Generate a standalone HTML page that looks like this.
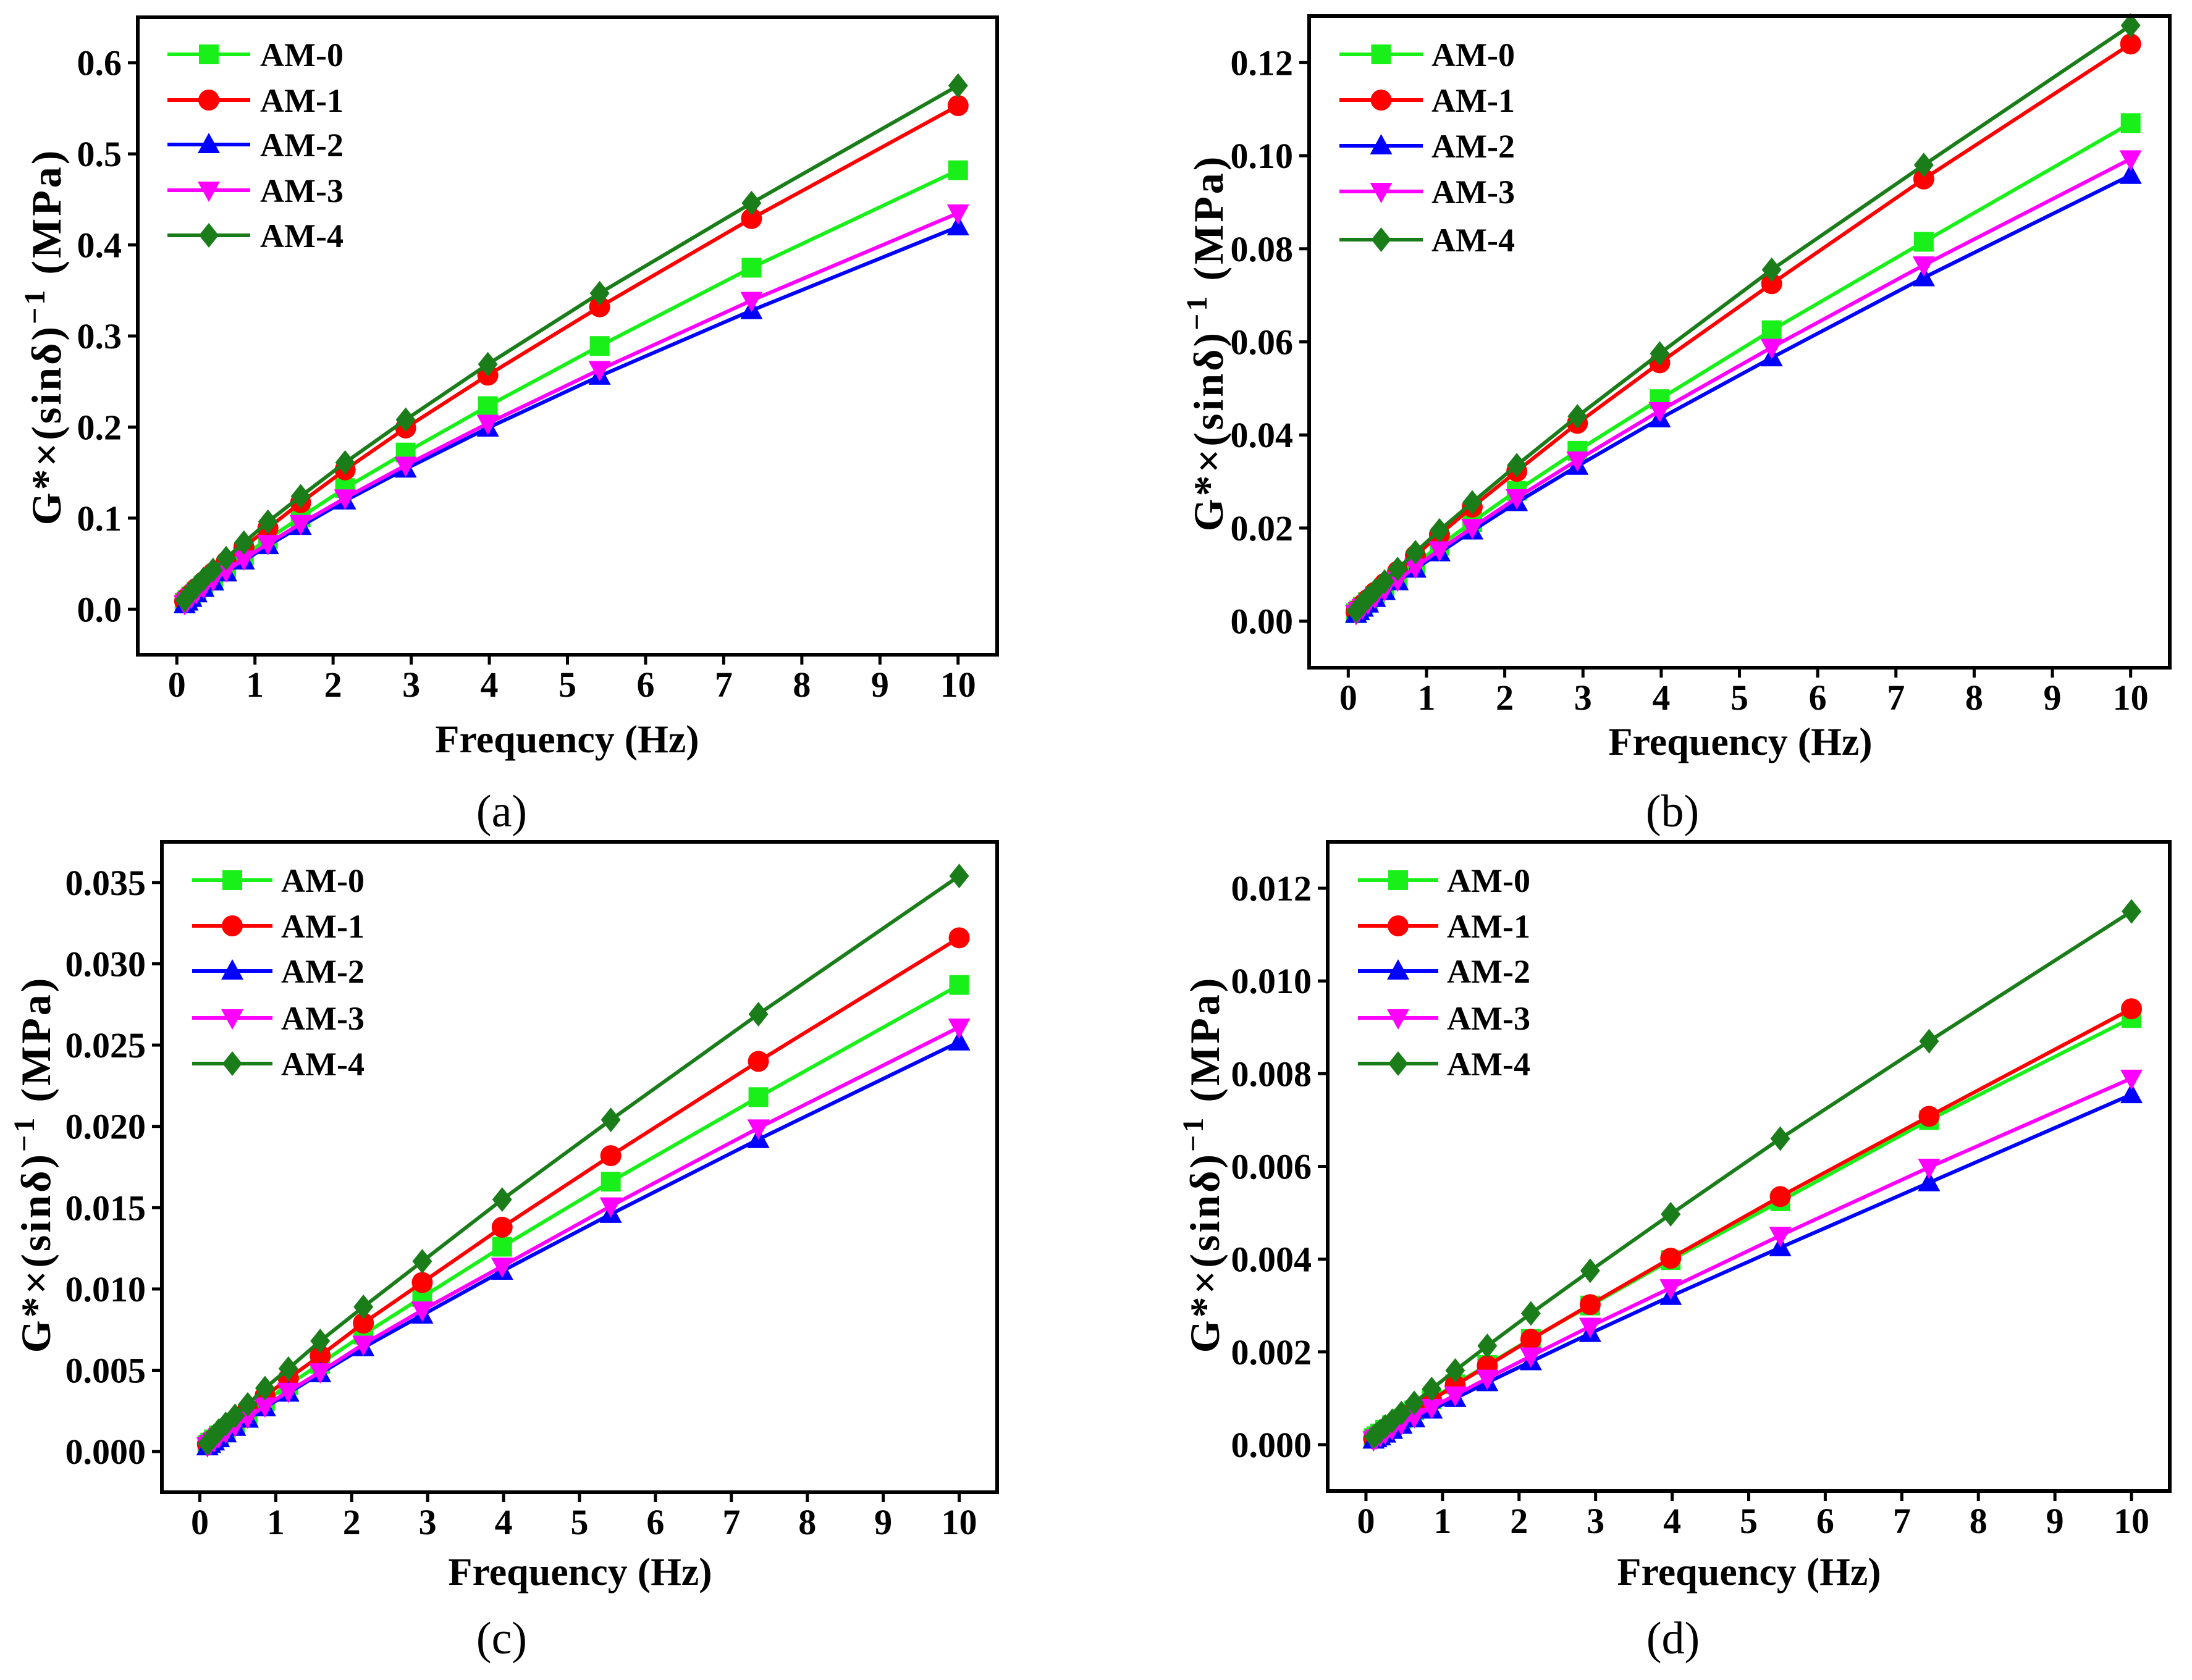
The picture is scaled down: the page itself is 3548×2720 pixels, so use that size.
<!DOCTYPE html>
<html><head><meta charset="utf-8"><style>
html,body{margin:0;padding:0;background:#fff;}
svg{display:block;}
text{font-family:"Liberation Serif","DejaVu Serif",serif;font-weight:bold;}
text.plabel{font-weight:normal;}
</style></head><body>
<svg id="fig" width="3548" height="2720" viewBox="0 0 3548 2720" xmlns="http://www.w3.org/2000/svg"></svg>
<script>
const freq = [0.1,0.136,0.185,0.251,0.341,0.464,0.631,0.858,1.166,1.585,2.154,2.929,3.981,5.412,7.356,10];
const seriesNames = ["AM-0","AM-1","AM-2","AM-3","AM-4"];
const xTicks = [0,1,2,3,4,5,6,7,8,9,10];
// panel a
const a_am0 = [.007,.010,.014,.019,.026,.034,.045,.059,.077,.101,.133,.172,.223,.289,.375,.482];
const a_am1 = [.009,.013,.017,.023,.030,.040,.052,.068,.089,.117,.153,.199,.257,.332,.429,.553];
const a_am2 = [.005,.008,.012,.017,.023,.030,.040,.053,.070,.091,.119,.154,.199,.256,.328,.420];
const a_am3 = [.006,.009,.013,.018,.024,.032,.042,.055,.072,.094,.122,.158,.204,.263,.339,.435];
const a_am4 = [.010,.014,.019,.025,.033,.043,.056,.073,.096,.124,.161,.208,.269,.347,.446,.575];
const a_yTicks = [0.0,0.1,0.2,0.3,0.4,0.5,0.6];
const a_yLabels = ["0.0","0.1","0.2","0.3","0.4","0.5","0.6"];
// panel b
const b_am0 = [.0017,.0023,.0031,.0041,.0054,.0071,.0093,.0123,.0162,.0213,.028,.0366,.0477,.0625,.0815,.107];
const b_am1 = [.002,.0027,.0036,.0047,.0062,.0081,.0107,.0141,.0186,.0245,.0322,.0425,.0555,.0725,.095,.124];
const b_am2 = [.0015,.0021,.0028,.0037,.0049,.0064,.0085,.0112,.0147,.0194,.0255,.0333,.0435,.0566,.0738,.0958];
const b_am3 = [.0016,.0022,.0029,.0038,.0051,.0067,.0088,.0116,.0153,.0201,.0265,.0346,.0452,.0588,.0765,.0993];
const b_am4 = [.0022,.0029,.0038,.005,.0065,.0085,.0112,.0148,.0195,.0255,.0335,.044,.0575,.0755,.098,.128];
const b_yTicks = [0,0.02,0.04,0.06,0.08,0.10,0.12];
const b_yLabels = ["0.00","0.02","0.04","0.06","0.08","0.10","0.12"];
// panel c
const c_am0 = [.0004,.00055,.00075,.001,.0013,.0017,.0023,.0031,.0041,.0054,.0072,.0095,.0126,.0166,.0218,.0287];
const c_am1 = [.00045,.0006,.0008,.0011,.0014,.0019,.0026,.0034,.0045,.0059,.0079,.0104,.0138,.0182,.0240,.0316];
const c_am2 = [.0003,.00045,.0006,.0008,.0011,.0015,.002,.0027,.0036,.0048,.0064,.0084,.0111,.0146,.0192,.0252];
const c_am3 = [.00035,.0005,.00065,.0009,.0012,.0016,.0021,.0028,.0037,.0049,.0066,.0087,.0114,.0151,.0199,.0261];
const c_am4 = [.0005,.0007,.00095,.0013,.0017,.0022,.0029,.0039,.0051,.0068,.0089,.0117,.0155,.0204,.0269,.0354];
const c_yTicks = [0,0.005,0.010,0.015,0.020,0.025,0.030,0.035];
const c_yLabels = ["0.000","0.005","0.010","0.015","0.020","0.025","0.030","0.035"];
// panel d
const d_am0 = [.00014,.00018,.00024,.00032,.00042,.00056,.00074,.00098,.0013,.00172,.00228,.00300,.00398,.00525,.00700,.0092];
const d_am1 = [.00013,.00017,.00023,.00031,.00041,.00054,.00072,.00096,.00128,.0017,.00227,.00302,.00402,.00535,.00708,.0094];
const d_am2 = [.0001,.00013,.00017,.00023,.00031,.00042,.00056,.00075,.001,.00134,.00179,.0024,.0032,.00425,.00565,.00755];
const d_am3 = [.0001,.00014,.00019,.00025,.00034,.00045,.0006,.0008,.00107,.00143,.00191,.00255,.00338,.00451,.00598,.0079];
const d_am4 = [.00017,.00022,.00029,.00039,.00051,.00068,.0009,.0012,.0016,.00213,.00283,.00375,.00497,.0066,.0087,.0115];
const d_yTicks = [0,0.002,0.004,0.006,0.008,0.010,0.012];
const d_yLabels = ["0.000","0.002","0.004","0.006","0.008","0.010","0.012"];

const colors = ["#19f019","#ff0000","#0000ff","#ff00ff","#1a7d1a"];
const markers = ["square","circle","triangle","tri-down","diamond"];

const panels = [
 {id:"a", L:223,R:1614,T:28,B:1060, xmin:-0.5,xmax:10.5, ymin:-0.05,ymax:0.65, data:[a_am0,a_am1,a_am2,a_am3,a_am4], yt:a_yTicks, yl:a_yLabels,
  legX1:271,legX2:405,legTx:421, legY:[88,162,234,308,381], xtx:918,xty:1218, lbx:812,lby:1338, ytx:74,yty:545},
 {id:"b", L:2119,R:3512,T:26,B:1081, xmin:-0.5,xmax:10.5, ymin:-0.01,ymax:0.13, data:[b_am0,b_am1,b_am2,b_am3,b_am4], yt:b_yTicks, yl:b_yLabels,
  legX1:2168,legX2:2303,legTx:2317, legY:[88,162,236,310,388], xtx:2817,xty:1222, lbx:2707,lby:1338, ytx:1955,yty:555},
 {id:"c", L:262,R:1614,T:1363,B:2416, xmin:-0.5,xmax:10.5, ymin:-0.0025,ymax:0.0375, data:[c_am0,c_am1,c_am2,c_am3,c_am4], yt:c_yTicks, yl:c_yLabels,
  legX1:311,legX2:441,legTx:455, legY:[1425,1499,1572,1648,1722], xtx:939,xty:2566, lbx:812,lby:2677, ytx:57,yty:1885},
 {id:"d", L:2149,R:3512,T:1363,B:2414, xmin:-0.5,xmax:10.5, ymin:-0.001,ymax:0.013, data:[d_am0,d_am1,d_am2,d_am3,d_am4], yt:d_yTicks, yl:d_yLabels,
  legX1:2198,legX2:2328,legTx:2342, legY:[1425,1499,1572,1648,1722], xtx:2831,xty:2566, lbx:2708,lby:2677, ytx:1949,yty:1885}
];

const NS="http://www.w3.org/2000/svg";
const svg=document.getElementById("fig");
function mk(tag,attrs,parent){const e=document.createElementNS(NS,tag);for(const k in attrs)e.setAttribute(k,attrs[k]);(parent||svg).appendChild(e);return e;}

function marker(g,type,x,y,color){
  const s=16; let e;
  if(type==="square") e=mk("rect",{x:x-s,y:y-s,width:2*s,height:2*s,fill:color},g);
  else if(type==="circle") e=mk("circle",{cx:x,cy:y,r:s+1,fill:color},g);
  else if(type==="triangle") e=mk("polygon",{points:`${x},${y-s-3} ${x+s+2},${y+s-2} ${x-s-2},${y+s-2}`,fill:color},g);
  else if(type==="tri-down") e=mk("polygon",{points:`${x},${y+s+3} ${x+s+2},${y-s+2} ${x-s-2},${y-s+2}`,fill:color},g);
  else e=mk("polygon",{points:`${x},${y-s-4} ${x+s},${y} ${x},${y+s+4} ${x-s},${y}`,fill:color},g);
  return e;
}

panels.forEach(p=>{
  const g=mk("g",{});
  
  
  const sx=v=>p.L+(v-p.xmin)/(p.xmax-p.xmin)*(p.R-p.L);
  const sy=v=>p.B-(v-p.ymin)/(p.ymax-p.ymin)*(p.B-p.T);
  p.data.forEach((arr,i)=>{
    const sg=mk("g",{},g);
    
    
    const pts=arr.map((v,j)=>sx(freq[j]).toFixed(1)+","+sy(v).toFixed(1)).join(" ");
    const pl=mk("polyline",{points:pts,fill:"none",stroke:colors[i],"stroke-width":6,"stroke-linejoin":"round"},sg);
    
    
    arr.forEach((v,j)=>{
      const m=marker(sg,markers[i],sx(freq[j]),sy(v),colors[i]);
      
      
    });
  });
  const fr=mk("rect",{x:p.L,y:p.T,width:p.R-p.L,height:p.B-p.T,fill:"none",stroke:"#000","stroke-width":6},g);
  
  
  xTicks.forEach(t=>{
    const x=sx(t);
    mk("line",{x1:x,y1:p.B,x2:x,y2:p.B+16,stroke:"#000","stroke-width":5},g);
    const tx=mk("text",{x:x,y:p.B+68,"font-size":58,"text-anchor":"middle",fill:"#000"},g);
    tx.textContent=String(t);
    
    
  });
  p.yt.forEach((t,k)=>{
    const y=sy(t);
    mk("line",{x1:p.L-16,y1:y,x2:p.L,y2:y,stroke:"#000","stroke-width":5},g);
    const tx=mk("text",{x:p.L-26,y:y+20,"font-size":58,"text-anchor":"end",fill:"#000"},g);
    tx.textContent=p.yl[k];
    
    
  });
  const lg=mk("g",{},g);
  
  
  seriesNames.forEach((n,i)=>{
    const y=p.legY[i];
    const eg=mk("g",{},lg);
    
    
    mk("line",{x1:p.legX1,y1:y,x2:p.legX2,y2:y,stroke:colors[i],"stroke-width":6},eg);
    marker(eg,markers[i],(p.legX1+p.legX2)/2,y,colors[i]);
    const tx=mk("text",{x:p.legTx,y:y+19,"font-size":54,fill:"#000"},eg);
    tx.textContent=n;
  });
  const xt=mk("text",{x:p.xtx,y:p.xty,"font-size":64,"text-anchor":"middle",fill:"#000"},g);
  xt.textContent="Frequency (Hz)";
  
  
  const yt=mk("text",{x:0,y:0,"font-size":68,"letter-spacing":4,"text-anchor":"middle",fill:"#000",transform:`translate(${p.ytx+24},${p.yty}) rotate(-90)`},g);
  
  
  const t1=mk("tspan",{},yt); t1.textContent="G*×(sinδ)";
  const t2=mk("tspan",{dy:-26,"font-size":48}, yt); t2.textContent="−1";
  const t3=mk("tspan",{dy:26}, yt); t3.textContent=" (MPa)";
  const pl=mk("text",{x:p.lbx,y:p.lby,"font-size":74,"class":"plabel","style":"font-weight:normal","text-anchor":"middle",fill:"#000"},g);
  pl.textContent="("+p.id+")";
  
  
});
</script>
</body></html>
